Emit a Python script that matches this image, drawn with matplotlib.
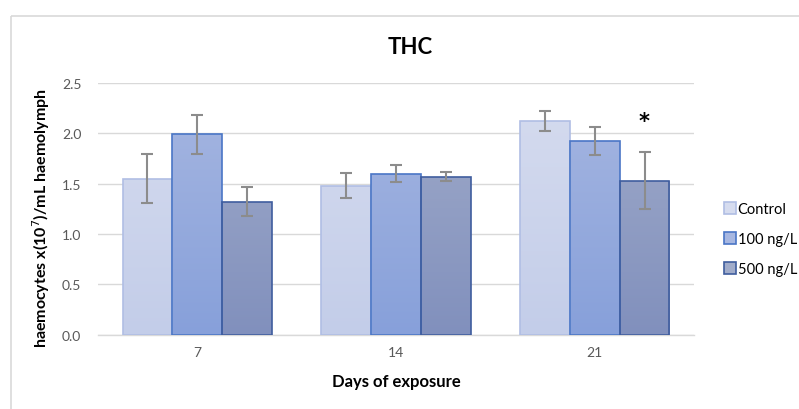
import matplotlib
matplotlib.use("Agg")
import matplotlib.pyplot as plt
import numpy as np
from matplotlib.colors import LinearSegmentedColormap
from matplotlib.patches import Rectangle
from matplotlib.lines import Line2D

plt.rcParams['font.family'] = ['Lato', 'DejaVu Sans']

days = ["7", "14", "21"]
series = ["Control", "100 ng/L", "500 ng/L"]
control = [1.55, 1.48, 2.12]
ng100 = [1.99, 1.60, 1.92]
ng500 = [1.32, 1.57, 1.53]
err_control = [0.24, 0.125, 0.10]
err_100 = [0.195, 0.088, 0.14]
err_500 = [0.145, 0.043, 0.28]
yticks = [0.0, 0.5, 1.0, 1.5, 2.0, 2.5]

values = [control, ng100, ng500]
errors = [err_control, err_100, err_500]
grad_top = ["#d6dcef", "#a7b7e1", "#a1acca"]
grad_bot = ["#c3cde9", "#87a0da", "#8190bd"]
edges = ["#b0bee4", "#4a76c6", "#3f5d9e"]

fig = plt.figure(figsize=(7.99, 4.10), dpi=100)
ax = fig.add_axes([98/799, 1-335.7/410, (694-98)/799, (335.7-84)/410])

x = np.arange(len(days))
w = 0.251
for i, (vals, errs) in enumerate(zip(values, errors)):
    pos = x + (i - 1) * w
    bars = ax.bar(pos, vals, width=w, facecolor='none', edgecolor=edges[i],
                  linewidth=1.2, zorder=3, label=series[i])
    cmap = LinearSegmentedColormap.from_list("g%d" % i, [grad_bot[i], grad_top[i]])
    for b in bars:
        x0, y0 = b.get_x(), b.get_y()
        bw, bh = b.get_width(), b.get_height()
        grad = np.linspace(0, 1, 256).reshape(-1, 1)
        im = ax.imshow(grad, extent=[x0, x0 + bw, 0, 2.5], origin='lower',
                       cmap=cmap, aspect='auto', zorder=2, vmin=0, vmax=1)
        clip = Rectangle((x0, y0), bw, bh, transform=ax.transData)
        im.set_clip_path(clip)
    ax.errorbar(pos, vals, yerr=errs, fmt='none', ecolor='#8c8c8c',
                elinewidth=1.5, capsize=4, capthick=1.5, zorder=4)

ax.text(2 + w, 2.125, "*", ha='center', va='center', fontsize=15,
        fontweight='bold', color='black', zorder=5,
        family=['DejaVu Sans'])

ax.set_xlim(-0.5, 2.5)
ax.set_ylim(0, 2.5)
ax.set_yticks(yticks)
ax.set_yticklabels(["%.1f" % t for t in yticks])
ax.set_xticks(x)
ax.set_xticklabels(days)
ax.tick_params(axis='both', length=0, labelsize=10, colors='#595959', pad=8)
ax.tick_params(axis='y', pad=12)
ax.yaxis.grid(True, color='#d9d9d9', linewidth=1, zorder=0)
ax.set_axisbelow(True)
for s in ['top', 'right', 'left']:
    ax.spines[s].set_visible(False)
ax.spines['bottom'].set_color('#d9d9d9')
ax.spines['bottom'].set_linewidth(1)

ax.set_ylabel("haemocytes x(10$^7$)/mL haemolymph", fontsize=11.5,
              fontweight='bold', color='black')
ax.yaxis.set_label_coords((52-98)/596, (335.7-218)/251.7)
ax.set_xlabel("Days of exposure", fontsize=12, fontweight='bold',
              color='black', labelpad=11)
fig.text(410/799, 1-47/410, "THC", ha='center', va='center', fontsize=16,
         fontweight='bold', color='black')

handles = [Line2D([0], [0], marker='s', linestyle='none', markersize=9,
                  markerfacecolor=grad_top[i], markeredgecolor=edges[i],
                  markeredgewidth=1.2) for i in range(3)]
fig.legend(handles, series, loc='center left', bbox_to_anchor=(710/799, 1-240/410),
           frameon=False, fontsize=10.5, handletextpad=0.0, labelspacing=1.1,
           handlelength=1.0)

border = Rectangle((11/799, 1-17.3/410), 2, -2, transform=fig.transFigure,
                   fill=False, edgecolor='#d9d9d9', linewidth=1.2)
fig.patches.append(border)

fig.savefig("out.png", dpi=100)
